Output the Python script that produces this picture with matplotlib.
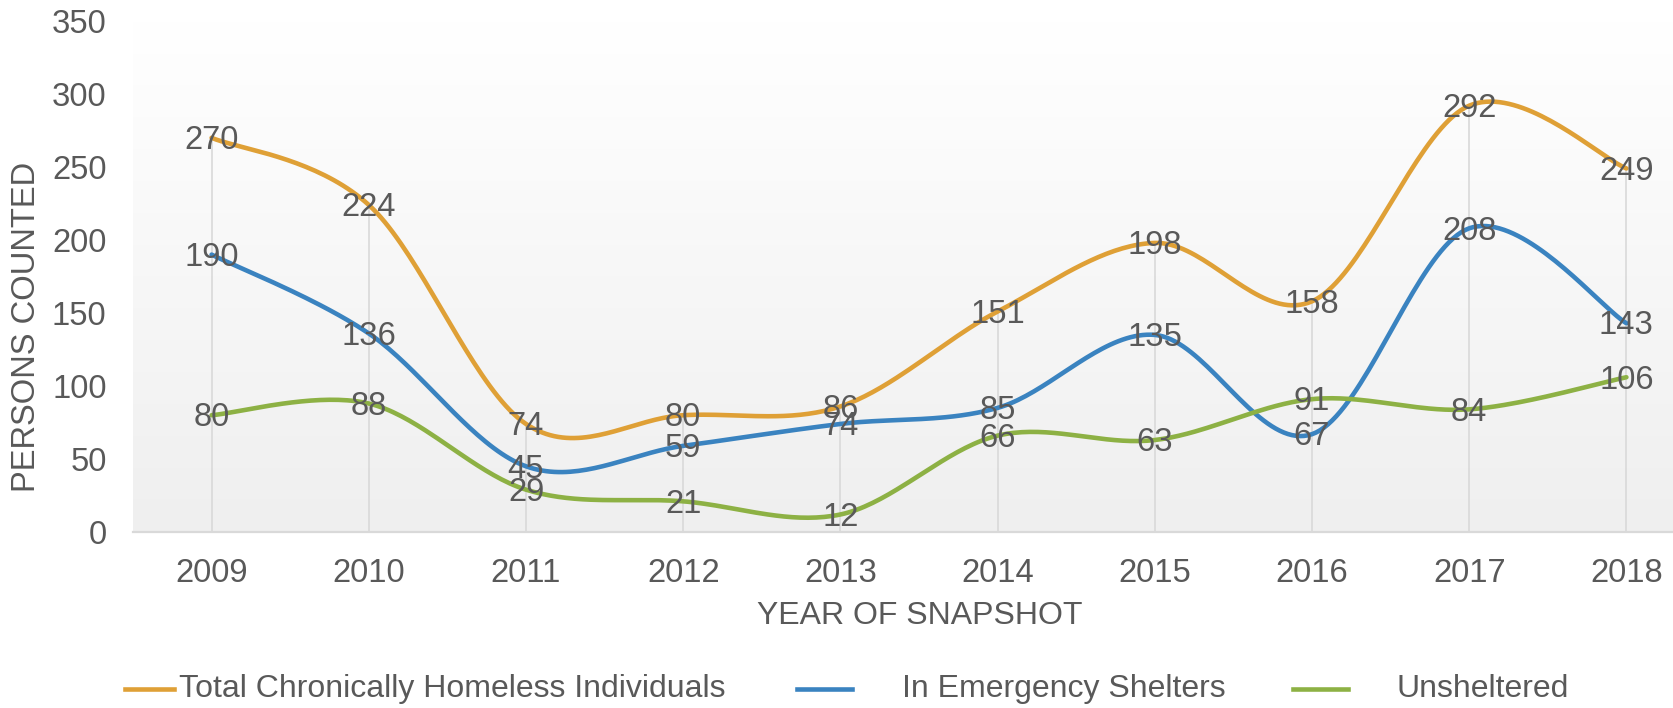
import numpy as np
import matplotlib
matplotlib.use("Agg")
import matplotlib.pyplot as plt
from matplotlib.lines import Line2D

plt.rcParams['font.family'] = ['Liberation Sans', 'DejaVu Sans']

years = ['2009', '2010', '2011', '2012', '2013', '2014', '2015', '2016', '2017', '2018']
total = [270, 224, 74, 80, 86, 151, 198, 158, 292, 249]
shelters = [190, 136, 45, 59, 74, 85, 135, 67, 208, 143]
unsheltered = [80, 88, 29, 21, 12, 66, 63, 91, 84, 106]
series_names = ['Total Chronically Homeless Individuals', 'In Emergency Shelters', 'Unsheltered']
colors = ['#DFA036', '#3A83C0', '#8DB144']
TXT = '#595959'
FS = 23.6
FS_LEG = 23

W, H = 1674, 708
fig = plt.figure(figsize=(W / 100, H / 100), dpi=100)
ax_left, ax_right = 133, 1705
ax_top, ax_bot = 21, 532
ax = fig.add_axes([ax_left / W, 1 - ax_bot / H, (ax_right - ax_left) / W, (ax_bot - ax_top) / H])

x = np.arange(len(years))
ax.set_xlim(-0.5, len(years) - 0.5)
ax.set_ylim(0, 350)

# gradient background
grad = np.linspace(1.0, 0.0, 256).reshape(-1, 1)
top_c = np.array([1.0, 1.0, 1.0])
bot_c = np.array([0xEF, 0xEF, 0xEF]) / 255
img = top_c * grad[..., None] + bot_c * (1 - grad[..., None])
ax.imshow(img, extent=[-0.5, len(years) - 0.5, 0, 350], aspect='auto', zorder=0, origin='upper')


def smooth(xs, ys, n=40):
    P = np.column_stack([xs, ys]).astype(float)
    ext = np.vstack([P[0], P, P[-1]])
    out = []
    t = np.linspace(0, 1, n)[:, None]
    for i in range(len(P) - 1):
        p0, p1, p2, p3 = ext[i], ext[i + 1], ext[i + 2], ext[i + 3]
        c1 = p1 + (p2 - p0) / 6
        c2 = p2 - (p3 - p1) / 6
        seg = ((1 - t) ** 3) * p1 + 3 * ((1 - t) ** 2) * t * c1 + 3 * (1 - t) * t ** 2 * c2 + t ** 3 * p2
        out.append(seg if i == 0 else seg[1:])
    out = np.vstack(out)
    return out[:, 0], out[:, 1]


# drop lines
tops = np.max(np.array([total, shelters, unsheltered]), axis=0)
ax.vlines(x, 0, tops, color='#D9D9D9', lw=1.2, zorder=1)

for vals, c in zip([total, shelters, unsheltered], colors):
    sx, sy = smooth(x, vals)
    ax.plot(sx, sy, color=c, lw=3.3, zorder=3, solid_capstyle='round')

for vals in [total, shelters, unsheltered]:
    for xi, v in zip(x, vals):
        ax.annotate(str(v), (xi, v), xytext=(0, -2), textcoords='offset points',
                    ha='center', va='center', fontsize=FS, color=TXT, zorder=4)

for s in ['top', 'right', 'left']:
    ax.spines[s].set_visible(False)
ax.spines['bottom'].set_color('#D9D9D9')
ax.spines['bottom'].set_linewidth(1.6)
ax.spines['bottom'].set_zorder(2)

ax.set_xticks(x)
ax.set_xticklabels(years)
ax.set_yticks(np.arange(0, 351, 50))
ax.tick_params(axis='x', length=0, pad=19, labelsize=FS, labelcolor=TXT)
ax.tick_params(axis='y', length=0, pad=19, labelsize=FS, labelcolor=TXT)

fig.text(920 / W, 1 - 616 / H, 'YEAR OF SNAPSHOT', ha='center', va='center', fontsize=FS_LEG, color=TXT)
fig.text(27 / W, 1 - 327 / H, 'PERSONS COUNTED', ha='center', va='center', rotation=90, fontsize=FS, color=TXT)

# legend
ly = 1 - 689 / H
leg = [(125, 174, 179), (797, 852, 902), (1293, 1348, 1397)]
for (l0, l1, tx), name, c in zip(leg, series_names, colors):
    fig.add_artist(Line2D([l0 / W, l1 / W], [ly, ly], color=c, lw=3.3, transform=fig.transFigure))
    fig.text(tx / W, ly, name, ha='left', va='center', fontsize=FS_LEG, color=TXT)

fig.savefig('out.png', dpi=100)
